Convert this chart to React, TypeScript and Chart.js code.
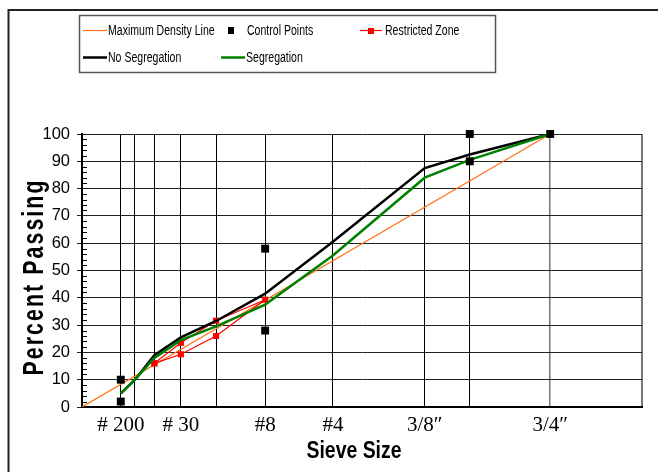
import { useEffect, useRef } from 'react';
import { Chart, registerables } from 'chart.js';

Chart.register(...registerables);

// Sieve sizes (mm) and their labels; x axis is sieve size raised to the 0.45 power
const sieveMm = [0.075, 0.15, 0.3, 0.6, 1.18, 2.36, 4.75, 9.5, 12.5, 19];
const sieveTickLabels = ['# 200', '', '', '# 30', '', '#8', '#4', '3/8″', '', '3/4″'];
const xAxisMaxPower = 4.5;

const noSegregation = [5, 10, 19, 25.5, 31.5, 41.5, 60.5, 87.5, 92.5, 100];
const segregation = [5, 10, 18, 24.5, 29.5, 37.5, 55.5, 84, 90.5, 100];

const maxDensityMm = [0, 19];
const maxDensityPct = [0, 100];

const controlMm = [0.075, 0.075, 2.36, 2.36, 12.5, 12.5, 19];
const controlPct = [2, 10, 28, 58, 90, 100, 100];

const restrictedMm = [0.3, 0.6, 1.18, 2.36, 1.18, 0.6, 0.3];
const restrictedPct = [16, 23.5, 31.6, 39.3, 26, 19.3, 16];

const yTicksStep = 10;

const pw = (mm: number) => Math.pow(mm, 0.45);
const pts = (xs: number[], ys: number[]) => xs.map((m, i) => ({ x: pw(m), y: ys[i] }));

const SANS = '"Liberation Sans", Arial, sans-serif';
const SERIF = '"Liberation Serif", "Times New Roman", serif';

function scaledText(ctx: CanvasRenderingContext2D, text: string, x: number, y: number, sx: number) {
  ctx.save();
  ctx.translate(x, y);
  ctx.scale(sx, 1);
  ctx.fillText(text, 0, 0);
  ctx.restore();
}

const decor = {
  id: 'decor',
  beforeDatasetsDraw(chart: any) {
    const { ctx, chartArea: a, scales } = chart;
    const y = scales.y;
    ctx.save();
    ctx.strokeStyle = '#000';
    ctx.lineWidth = 1;
    for (let v = 2; v < 100; v += 2) {
      if (v % 10 === 0) continue;
      const yy = Math.round(y.getPixelForValue(v)) + 0.5;
      ctx.beginPath();
      ctx.moveTo(a.left, yy);
      ctx.lineTo(a.left + 5, yy);
      ctx.stroke();
    }
    ctx.restore();
  },
  afterDraw(chart: any) {
    const { ctx } = chart;
    ctx.save();
    // outer frame
    ctx.strokeStyle = '#222';
    ctx.lineWidth = 2;
    ctx.beginPath();
    ctx.moveTo(8.5, 472);
    ctx.lineTo(8.5, 10);
    ctx.lineTo(658, 10);
    ctx.stroke();

    // legend box
    ctx.strokeStyle = '#555';
    ctx.lineWidth = 1.5;
    ctx.strokeRect(79.5, 15.5, 416, 57);

    ctx.fillStyle = '#000';
    ctx.font = `15.5px ${SANS}`;
    ctx.textAlign = 'left';
    ctx.textBaseline = 'alphabetic';
    const sx = 0.68;
    const r1 = 34.5, r2 = 61.5;
    // Maximum Density Line
    ctx.strokeStyle = '#ff7018';
    ctx.lineWidth = 1.2;
    ctx.beginPath(); ctx.moveTo(83, 30.5); ctx.lineTo(107, 30.5); ctx.stroke();
    scaledText(ctx, chart.data.datasets[0].label, 108, r1, sx);
    // Control Points
    ctx.fillStyle = '#000';
    ctx.fillRect(228, 27, 6, 7);
    scaledText(ctx, chart.data.datasets[4].label, 247, r1, sx);
    // Restricted Zone
    ctx.strokeStyle = '#ff0000';
    ctx.lineWidth = 1.2;
    ctx.beginPath(); ctx.moveTo(360, 30.5); ctx.lineTo(382, 30.5); ctx.stroke();
    ctx.fillStyle = '#ff0000';
    ctx.fillRect(368, 28, 6, 6);
    ctx.fillStyle = '#000';
    scaledText(ctx, chart.data.datasets[1].label, 385, r1, sx);
    // No Segregation
    ctx.strokeStyle = '#000';
    ctx.lineWidth = 2.5;
    ctx.beginPath(); ctx.moveTo(83, 57.5); ctx.lineTo(107, 57.5); ctx.stroke();
    scaledText(ctx, chart.data.datasets[2].label, 108, r2, sx);
    // Segregation
    ctx.strokeStyle = '#008000';
    ctx.beginPath(); ctx.moveTo(221, 57.5); ctx.lineTo(245, 57.5); ctx.stroke();
    scaledText(ctx, chart.data.datasets[3].label, 246, r2, sx);

    // x axis title
    ctx.font = `bold 23px ${SANS}`;
    ctx.textAlign = 'center';
    const xt = 'Sieve Size';
    const xw = ctx.measureText(xt).width;
    scaledText(ctx, xt, 354, 458, 95 / xw);

    // y axis title
    ctx.font = `bold 30px ${SANS}`;
    try { (ctx as any).letterSpacing = '3px'; } catch (e) { /* ignore */ }
    const yt = 'Percent Passing';
    const yw = ctx.measureText(yt).width;
    ctx.save();
    ctx.translate(43, 277);
    ctx.rotate(-Math.PI / 2);
    ctx.scale(197 / yw, 1);
    ctx.fillText(yt, 0, 0);
    ctx.restore();
    try { (ctx as any).letterSpacing = '0px'; } catch (e) { /* ignore */ }

    ctx.restore();
  },
};

export default function App() {
  const ref = useRef<HTMLCanvasElement | null>(null);
  useEffect(() => {
    if (!ref.current) return;
    const chart = new Chart(ref.current, {
      type: 'scatter',
      data: {
        datasets: [
          {
            label: 'Maximum Density Line',
            data: pts(maxDensityMm, maxDensityPct),
            showLine: true,
            borderColor: '#ff7018',
            borderWidth: 1.2,
            pointRadius: 0,
            order: 5,
          },
          {
            label: 'Restricted Zone',
            data: pts(restrictedMm, restrictedPct),
            showLine: true,
            borderColor: '#ff0000',
            backgroundColor: '#ff0000',
            borderWidth: 1.2,
            pointStyle: 'rect',
            pointRadius: 4.3,
            pointBorderWidth: 0,
            order: 4,
          },
          {
            label: 'No Segregation',
            data: pts(sieveMm, noSegregation),
            showLine: true,
            borderColor: '#000000',
            borderWidth: 2.5,
            pointRadius: 0,
            order: 3,
          },
          {
            label: 'Segregation',
            data: pts(sieveMm, segregation),
            showLine: true,
            borderColor: '#008000',
            borderWidth: 2.5,
            pointRadius: 0,
            order: 2,
          },
          {
            label: 'Control Points',
            data: pts(controlMm, controlPct),
            showLine: false,
            backgroundColor: '#000000',
            borderColor: '#000000',
            pointStyle: 'rect',
            pointRadius: 5.6,
            pointBorderWidth: 0,
            clip: false,
            order: 1,
          },
        ] as any,
      },
      options: {
        animation: false,
        responsive: false,
        events: [],
        layout: { padding: { left: 0, right: 16, top: 134, bottom: 0 } },
        plugins: { legend: { display: false }, tooltip: { enabled: false } },
        scales: {
          x: {
            type: 'linear',
            min: 0,
            max: xAxisMaxPower,
            afterBuildTicks: (s: any) => {
              s.ticks = [...sieveMm.map((m) => ({ value: pw(m) })), { value: xAxisMaxPower }];
            },
            afterFit: (s: any) => { s.height = 65; },
            ticks: {
              autoSkip: false,
              maxRotation: 0,
              padding: 6,
              color: '#000',
              font: { family: SERIF, size: 21 },
              callback: (_v: any, i: number) => sieveTickLabels[i] ?? '',
            },
            grid: {
              drawTicks: false,
              color: (c: any) => (c.index >= 9 ? '#777' : '#000'),
              lineWidth: (c: any) => (c.index === 10 ? 2 : c.index === 9 ? 1.5 : 1),
            },
            border: { color: '#000', width: 2 },
          },
          y: {
            type: 'linear',
            min: 0,
            max: 100,
            afterFit: (s: any) => { s.width = 82; },
            ticks: {
              stepSize: yTicksStep,
              padding: 7,
              color: '#000',
              font: { family: SANS, size: 16.5 },
            },
            grid: { color: '#222', lineWidth: 1, tickLength: 5 },
            border: { color: '#000', width: 2 },
          },
        },
      } as any,
      plugins: [decor],
    });
    return () => chart.destroy();
  }, []);
  return (
    <canvas
      ref={ref}
      width={658}
      height={472}
      style={{ position: 'fixed', left: 0, top: 0, width: 658, height: 472, background: '#fff' }}
    />
  );
}
